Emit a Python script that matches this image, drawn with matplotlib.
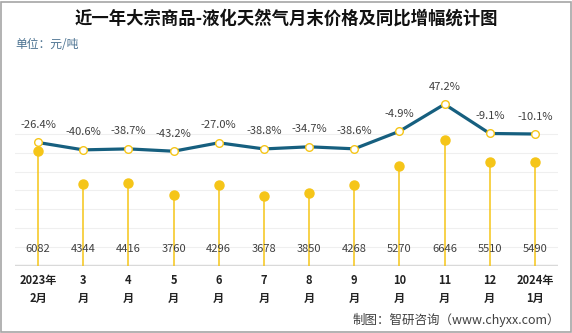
import numpy as np
import matplotlib.pyplot as plt
from matplotlib.patches import Rectangle

plt.rcParams['font.family'] = ['Noto Sans CJK SC', 'DejaVu Sans']

months = ["2023年\n2月", "3\n月", "4\n月", "5\n月", "6\n月", "7\n月",
          "8\n月", "9\n月", "10\n月", "11\n月", "12\n月", "2024年\n1月"]
price = [6082, 4344, 4416, 3760, 4296, 3678, 3850, 4268, 5270, 6646, 5510, 5490]
yoy = [-26.4, -40.6, -38.7, -43.2, -27.0, -38.8, -34.7, -38.6, -4.9, 47.2, -9.1, -10.1]

W, H = 572, 333
fig = plt.figure(figsize=(W / 100, H / 100), dpi=100)

# border
fig.patches.append(Rectangle((1 / W, 1 / H), 1 - 2.5 / W, 1 - 2.5 / H, transform=fig.transFigure,
                             fill=False, edgecolor='#a6a6a6', linewidth=1.2))

# plot area in pixels (from top)
left, right = 15.5, 557.5
bottom, top = 266, 39.2
ax = fig.add_axes([left / W, (H - bottom) / H, (right - left) / W, (bottom - top) / H])
ax.set_xlim(-0.5, len(months) - 0.5)
ax.set_ylim(0, 12000)
x = np.arange(len(months))

for g in range(1000, 8000, 1000):
    ax.axhline(g, color='#efefef', linewidth=0.8, zorder=0)
ax.axhline(0, color='#d9d9d9', linewidth=2.5, zorder=1)

ax.vlines(x, 0, price, color='#f5c518', linewidth=1.1, zorder=2)
ax.plot(x, price, 'o', color='#f5c518', markersize=6.5, zorder=3)
for i, v in enumerate(price):
    ax.annotate(str(v), (i, 0), xytext=(0, 12), textcoords='offset points',
                ha='center', va='center', fontsize=8, color='#404040', zorder=4)

ax.set_xticks(x)
ax.set_xticklabels(months, fontsize=8, fontweight='bold', color='#222222', linespacing=1.5)
ax.tick_params(axis='x', length=0, pad=6)
ax.set_yticks([])
for s in ax.spines.values():
    s.set_visible(False)
ax.patch.set_alpha(0)

ax2 = ax.twinx()
ax2.set_ylim(-263.9, 172.2)
ax2.plot(x, yoy, '-', color='#165f7f', linewidth=2.3, zorder=5)
ax2.plot(x, yoy, 'o', markerfacecolor='white', markeredgecolor='#f5c518', markeredgewidth=1,
         markersize=5.5, zorder=6)
for i, v in enumerate(yoy):
    ax2.annotate(f"{v:.1f}%", (i, v), xytext=(0, 9), textcoords='offset points',
                 ha='center', va='bottom', fontsize=8, color='#404040')
ax2.set_yticks([])
for s in ax2.spines.values():
    s.set_visible(False)

fig.text(0.5, 1 - 19 / H, "近一年大宗商品-液化天然气月末价格及同比增幅统计图", ha='center', va='center',
         fontsize=12.5, fontweight='bold', color='#111111')
fig.text(15 / W, 1 - 45 / H, "单位：元/吨", ha='left', va='center', fontsize=8.5, color='#4a7190')

fig.text(560 / W, 1 - 320 / H, "制图：智研咨询（www.chyxx.com）", ha='right', va='center',
         fontsize=9, color='#404040')

fig.savefig("out.png", dpi=100)
